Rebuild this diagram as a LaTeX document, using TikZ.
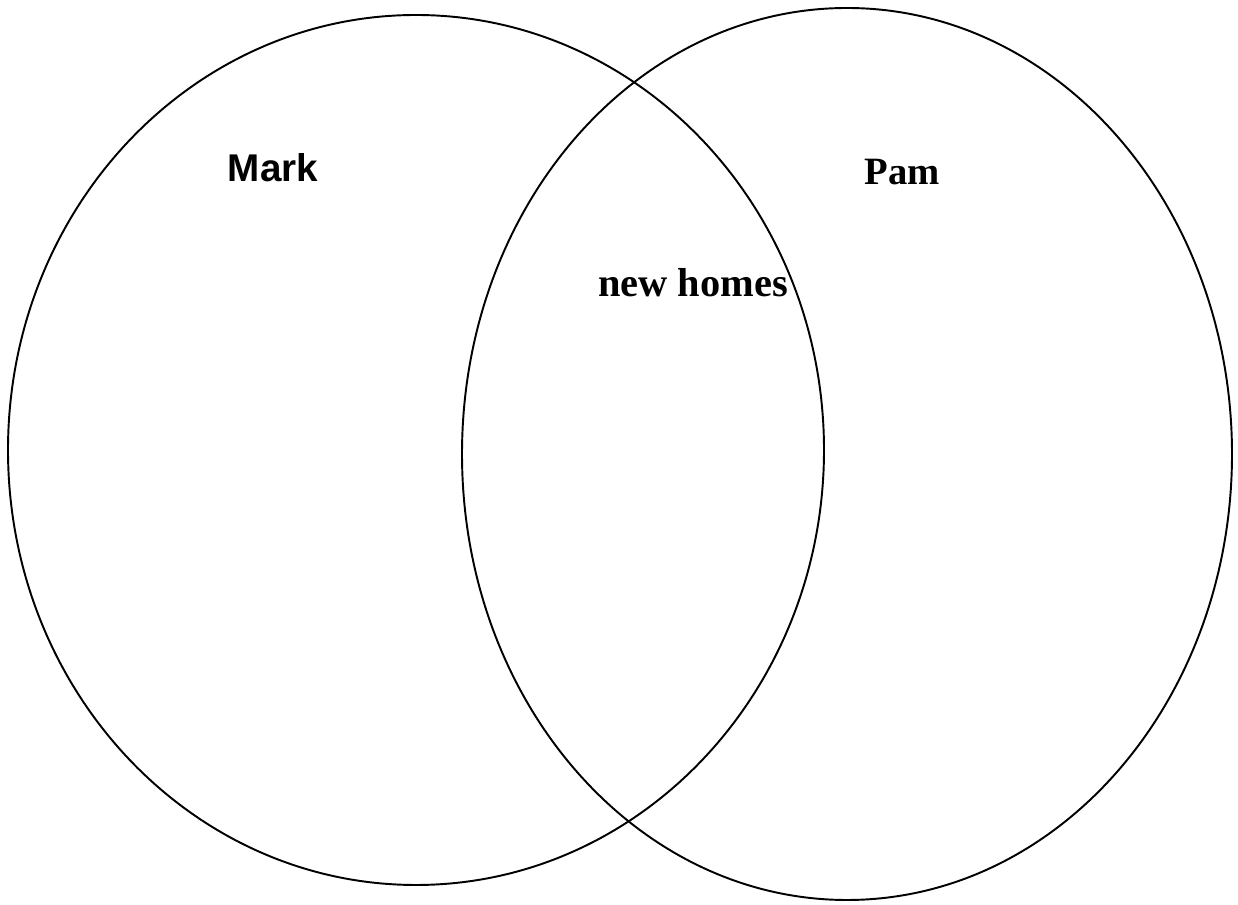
\documentclass[tikz,border=0pt]{standalone}
\usepackage{fontspec}
\setmainfont{Liberation Serif}
\newfontfamily\labelsans{Liberation Sans}
\usetikzlibrary{calc}

\begin{document}
\begin{tikzpicture}

% styles
\tikzset{
  set/.style={draw, line width=1.1pt},
  setname/.style={font=\bfseries\fontsize{23}{27}\selectfont},
}

% page
\useasboundingbox (0,0) rectangle (24.76,18.1);

% the two sets
\coordinate (M) at (8.32,9.10);
\coordinate (P) at (16.94,9.02);
\draw[set] (M) ellipse [x radius=8.16, y radius=8.70];
\draw[set] (P) ellipse [x radius=7.70, y radius=8.92];

% labels
\node[font=\labelsans\bfseries\fontsize{22}{26}\selectfont] (mark) at (5.46,14.74) {Mark};
\node[setname, font=\bfseries\fontsize{22}{26}\selectfont] (pam) at (18.04,14.66) {Pam};
\node[setname] (homes) at (13.86,12.44) {new homes};

\end{tikzpicture}
\end{document}
